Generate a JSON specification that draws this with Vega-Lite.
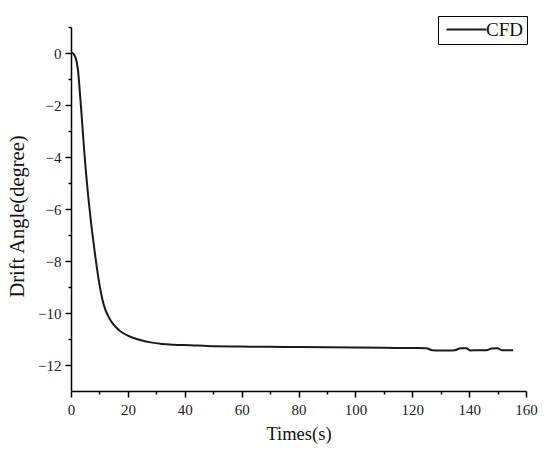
{
  "$schema": "https://vega.github.io/schema/vega-lite/v6.json",
  "width": 455,
  "height": 364,
  "autosize": "none",
  "padding": {"left": 71, "top": 27, "right": 24, "bottom": 70},
  "background": "white",
  "config": {
    "view": {"stroke": null},
    "font": "Liberation Serif",
    "axis": {"grid": false, "domainColor": "black", "tickColor": "black", "labelColor": "#222", "titleColor": "#111", "labelFont": "Liberation Serif", "titleFont": "Liberation Serif", "titleFontWeight": "normal"}
  },
  "data": {
    "values": [
      {"t": 0, "v": 0, "series": "CFD"},
      {"t": 0.5, "v": 0, "series": "CFD"},
      {"t": 1, "v": -0.05, "series": "CFD"},
      {"t": 1.5, "v": -0.15, "series": "CFD"},
      {"t": 2, "v": -0.35, "series": "CFD"},
      {"t": 2.5, "v": -0.7, "series": "CFD"},
      {"t": 3, "v": -1.35, "series": "CFD"},
      {"t": 3.5, "v": -2.05, "series": "CFD"},
      {"t": 4, "v": -2.8, "series": "CFD"},
      {"t": 4.5, "v": -3.55, "series": "CFD"},
      {"t": 5, "v": -4.25, "series": "CFD"},
      {"t": 5.5, "v": -4.88, "series": "CFD"},
      {"t": 6, "v": -5.45, "series": "CFD"},
      {"t": 6.5, "v": -5.98, "series": "CFD"},
      {"t": 7, "v": -6.48, "series": "CFD"},
      {"t": 7.5, "v": -6.93, "series": "CFD"},
      {"t": 8, "v": -7.36, "series": "CFD"},
      {"t": 8.5, "v": -7.78, "series": "CFD"},
      {"t": 9, "v": -8.18, "series": "CFD"},
      {"t": 9.5, "v": -8.56, "series": "CFD"},
      {"t": 10, "v": -8.9, "series": "CFD"},
      {"t": 10.5, "v": -9.2, "series": "CFD"},
      {"t": 11, "v": -9.46, "series": "CFD"},
      {"t": 12, "v": -9.85, "series": "CFD"},
      {"t": 13, "v": -10.1, "series": "CFD"},
      {"t": 14, "v": -10.3, "series": "CFD"},
      {"t": 15, "v": -10.45, "series": "CFD"},
      {"t": 16, "v": -10.57, "series": "CFD"},
      {"t": 17, "v": -10.67, "series": "CFD"},
      {"t": 18, "v": -10.75, "series": "CFD"},
      {"t": 20, "v": -10.87, "series": "CFD"},
      {"t": 22, "v": -10.96, "series": "CFD"},
      {"t": 25, "v": -11.06, "series": "CFD"},
      {"t": 28, "v": -11.13, "series": "CFD"},
      {"t": 32, "v": -11.19, "series": "CFD"},
      {"t": 36, "v": -11.22, "series": "CFD"},
      {"t": 42, "v": -11.24, "series": "CFD"},
      {"t": 48, "v": -11.27, "series": "CFD"},
      {"t": 60, "v": -11.29, "series": "CFD"},
      {"t": 70, "v": -11.3, "series": "CFD"},
      {"t": 80, "v": -11.31, "series": "CFD"},
      {"t": 90, "v": -11.32, "series": "CFD"},
      {"t": 100, "v": -11.33, "series": "CFD"},
      {"t": 110, "v": -11.34, "series": "CFD"},
      {"t": 122, "v": -11.35, "series": "CFD"},
      {"t": 125, "v": -11.36, "series": "CFD"},
      {"t": 127, "v": -11.43, "series": "CFD"},
      {"t": 130, "v": -11.44, "series": "CFD"},
      {"t": 133, "v": -11.44, "series": "CFD"},
      {"t": 135, "v": -11.43, "series": "CFD"},
      {"t": 137, "v": -11.36, "series": "CFD"},
      {"t": 139, "v": -11.36, "series": "CFD"},
      {"t": 140.5, "v": -11.44, "series": "CFD"},
      {"t": 143, "v": -11.43, "series": "CFD"},
      {"t": 146, "v": -11.43, "series": "CFD"},
      {"t": 148, "v": -11.37, "series": "CFD"},
      {"t": 150, "v": -11.36, "series": "CFD"},
      {"t": 151.5, "v": -11.43, "series": "CFD"},
      {"t": 155.5, "v": -11.43, "series": "CFD"}
    ]
  },
  "layer": [
    {
      "mark": {"type": "line", "strokeWidth": 2, "interpolate": "monotone"},
      "encoding": {
        "x": {
          "field": "t", "type": "quantitative",
          "scale": {"domain": [0, 160], "nice": false, "zero": false},
          "axis": {"orient": "bottom", "values": [0, 20, 40, 60, 80, 100, 120, 140, 160], "labelExpr": "'' + datum.value", "tickSize": 6, "tickWidth": 1.5, "domainWidth": 1.5, "labelFontSize": 15, "labelPadding": 5, "title": "Times(s)", "titleFontSize": 18.5, "titlePadding": 7, "labelFlush": false}
        },
        "y": {
          "field": "v", "type": "quantitative",
          "scale": {"domain": [-13, 1], "nice": false, "zero": false},
          "axis": {"orient": "left", "values": [0, -2, -4, -6, -8, -10, -12], "labelExpr": "replace('' + datum.value, '-', '\u2212')", "tickSize": 6, "tickWidth": 1.5, "domainWidth": 1.5, "labelFontSize": 15, "labelPadding": 4, "title": "Drift Angle(degree)", "titleFontSize": 20.5, "titleX": -44, "titleY": 189, "titleAngle": -90, "titleBaseline": "bottom", "titleAlign": "center"}
        },
        "color": {
          "field": "series", "type": "nominal",
          "scale": {"range": ["#1a1a1a"]},
          "legend": {"orient": "none", "legendX": 367, "legendY": -11, "title": null, "symbolType": "M-4,0H4", "symbolSize": 100, "symbolOffset": 15, "symbolStrokeWidth": 2, "symbolStrokeColor": "#1a1a1a", "labelFontSize": 19, "labelFont": "Liberation Serif", "labelColor": "#111", "labelOffset": 10, "strokeColor": "black", "padding": 4}
        }
      }
    },
    {
      "mark": {"type": "line", "opacity": 0},
      "encoding": {
        "x": {
          "field": "t", "type": "quantitative",
          "axis": {"orient": "bottom", "values": [10, 30, 50, 70, 90, 110, 130, 150], "labels": false, "domain": false, "tickSize": 3, "tickWidth": 1.5, "title": null}
        },
        "y": {
          "field": "v", "type": "quantitative",
          "axis": {"orient": "left", "values": [1, -1, -3, -5, -7, -9, -11], "labels": false, "domain": false, "tickSize": 3, "tickWidth": 1.5, "title": null}
        }
      }
    }
  ],
  "resolve": {"axis": {"x": "independent", "y": "independent"}}
}
